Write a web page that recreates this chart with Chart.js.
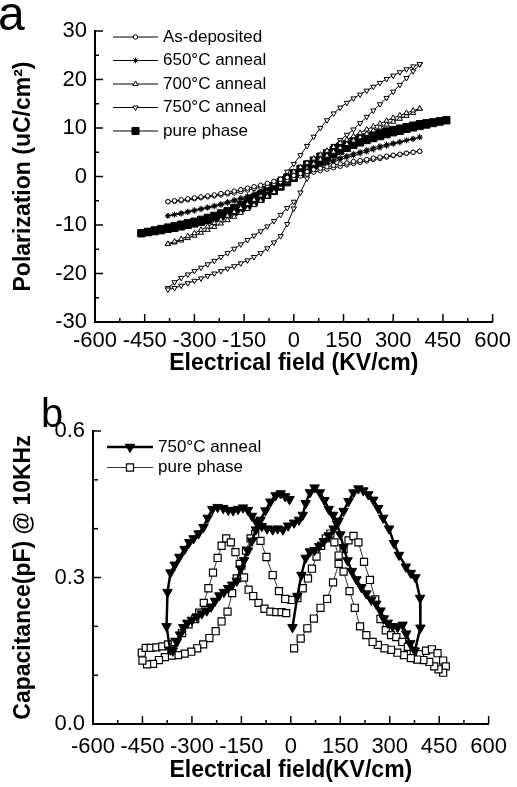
<!DOCTYPE html>
<html>
<head>
<meta charset="utf-8">
<script src="https://cdn.jsdelivr.net/npm/chart.js"></script>
<style>
  html, body { margin: 0; padding: 0; background: #fff; }
  canvas { display: block; }
</style>
</head>
<body>
<canvas id="chart-pe" width="517" height="390"></canvas>
<canvas id="chart-cv" width="517" height="397"></canvas>
<script>
/*
  ==================================================
  ============ DATOS (a) LAZOS P-E ================
  ==================================================
*/

// campo aplicado, pasos de 20 kV/cm
const fieldA = [-380, -360, -340, -320, -300, -280, -260, -240, -220, -200, -180, -160, -140, -120, -100, -80, -60, -40, -20, 0,
  20, 40, 60, 80, 100, 120, 140, 160, 180, 200, 220, 240, 260, 280, 300, 320, 340, 360, 380];

const asDepUpper = [-5.2, -5.0, -4.8, -4.6, -4.4, -4.2, -4.0, -3.8, -3.5, -3.3, -3.0, -2.7, -2.4, -2.1, -1.8, -1.4, -1.0, -0.6, -0.2, 0.2,
  0.6, 1.0, 1.4, 1.7, 2.0, 2.3, 2.6, 2.8, 3.1, 3.3, 3.5, 3.8, 4.0, 4.2, 4.4, 4.6, 4.8, 5.0, 5.2];
const asDepLower = [-5.2, -5.1, -5.0, -4.8, -4.6, -4.4, -4.2, -4.0, -3.8, -3.6, -3.4, -3.1, -2.8, -2.5, -2.2, -1.9, -1.5, -1.1, -0.7, -0.3,
  0.1, 0.5, 0.9, 1.2, 1.5, 1.8, 2.1, 2.4, 2.7, 2.9, 3.2, 3.5, 3.7, 4.0, 4.3, 4.5, 4.8, 5.0, 5.2];

const p650Upper = [-8.1, -7.8, -7.5, -7.2, -6.9, -6.6, -6.3, -6.0, -5.6, -5.2, -4.8, -4.4, -4.0, -3.5, -3.0, -2.4, -1.8, -1.2, -0.6, 0.1,
  0.7, 1.3, 1.9, 2.4, 2.9, 3.4, 3.9, 4.3, 4.7, 5.1, 5.5, 5.9, 6.3, 6.6, 6.9, 7.2, 7.5, 7.8, 8.1];
const p650Lower = [-8.1, -7.9, -7.7, -7.4, -7.1, -6.8, -6.5, -6.2, -5.9, -5.5, -5.1, -4.7, -4.3, -3.8, -3.3, -2.8, -2.2, -1.6, -1.0, -0.3,
  0.3, 0.9, 1.5, 2.0, 2.5, 3.0, 3.5, 3.9, 4.3, 4.7, 5.1, 5.5, 5.9, 6.3, 6.7, 7.0, 7.4, 7.7, 8.1];

const p700Upper = [-13.9, -13.4, -12.9, -12.3, -11.7, -11.0, -10.3, -9.6, -8.9, -8.1, -7.3, -6.5, -5.7, -4.8, -3.9, -3.0, -2.0, -1.0, 0.0, 1.0,
  1.9, 2.8, 3.7, 4.5, 5.3, 6.1, 6.9, 7.6, 8.3, 9.0, 9.7, 10.3, 10.9, 11.5, 12.1, 12.6, 13.1, 13.6, 14.0];
const p700Lower = [-13.9, -13.6, -13.2, -12.7, -12.2, -11.6, -11.0, -10.4, -9.7, -9.0, -8.3, -7.5, -6.7, -5.9, -5.0, -4.1, -3.2, -2.2, -1.2, -0.2,
  0.8, 1.7, 2.6, 3.5, 4.3, 5.1, 5.9, 6.7, 7.4, 8.1, 8.8, 9.5, 10.1, 10.7, 11.3, 11.9, 12.5, 13.1, 14.0];

// 750 C: rama inicial (0 -> -E), rama de subida (-E -> +E), rama de bajada (+E -> 0)
const field750P = [0, -20, -40, -60, -80, -100, -120, -140, -160, -180, -200, -220, -240, -260, -280, -300, -320, -340, -360, -380];
const p750P = [-5.2, -6.5, -7.9, -9.2, -10.3, -11.3, -12.2, -13.1, -14.0, -14.9, -15.8, -16.6, -17.4, -18.1, -18.8, -19.5, -20.2, -20.9, -21.8, -23.0];
const p750Q = [-23.3, -23.0, -22.5, -22.0, -21.5, -21.0, -20.5, -20.0, -19.5, -19.0, -18.5, -17.9, -17.3, -16.6, -15.8, -14.8, -13.6, -12.3, -9.8, -6.6,
  -3.3, -0.4, 1.8, 3.5, 5.0, 6.3, 7.5, 8.6, 9.7, 11.0, 12.3, 13.6, 14.9, 16.2, 17.5, 18.9, 20.3, 21.7, 23.1];
const field750R = [380, 360, 340, 320, 300, 280, 260, 240, 220, 200, 180, 160, 140, 120, 100, 80, 60, 40, 20, 0, -20, -40];
const p750R = [23.2, 22.7, 22.1, 21.5, 20.8, 20.1, 19.3, 18.5, 17.7, 16.9, 16.1, 15.2, 14.2, 13.0, 11.6, 10.0, 8.2, 6.3, 4.4, 2.6, 1.0, -0.4];

// fase pura, hasta 460 kV/cm
const fieldPure = [-460, -440, -420, -400, -380, -360, -340, -320, -300, -280, -260, -240, -220, -200, -180, -160, -140, -120, -100, -80,
  -60, -40, -20, 0, 20, 40, 60, 80, 100, 120, 140, 160, 180, 200, 220, 240, 260, 280, 300, 320, 340, 360, 380, 400, 420, 440, 460];
const pureUpper = [-11.7, -11.4, -11.1, -10.8, -10.5, -10.2, -9.9, -9.6, -9.3, -8.9, -8.5, -8.1, -7.6, -7.1, -6.5, -5.9, -5.2, -4.5, -3.7, -2.9,
  -2.0, -1.1, -0.2, 0.7, 1.6, 2.5, 3.3, 4.1, 4.8, 5.5, 6.1, 6.7, 7.2, 7.7, 8.1, 8.5, 8.9, 9.3, 9.6, 9.9, 10.2, 10.5, 10.8, 11.0, 11.2, 11.4, 11.6];
const pureLower = [-11.7, -11.5, -11.3, -11.1, -10.8, -10.6, -10.3, -10.0, -9.7, -9.4, -9.0, -8.6, -8.2, -7.7, -7.2, -6.6, -6.0, -5.3, -4.6, -3.8,
  -3.0, -2.1, -1.2, -0.3, 0.6, 1.5, 2.3, 3.1, 3.9, 4.6, 5.3, 5.9, 6.5, 7.0, 7.5, 7.9, 8.3, 8.7, 9.1, 9.4, 9.8, 10.1, 10.4, 10.7, 11.0, 11.3, 11.6];

/*
  ==================================================
  ============ DATOS (b) CURVAS C-V ===============
  ==================================================
*/

const capField750 = [5, 20, 32, 45, 58, 72, 86, 100, 115, 130, 145, 160, 175, 190, 205, 220, 235, 250, 265, 280, 298, 313, 328, 349, 364, 378, 392, 393, 376,
  362, 350, 339, 324, 309, 294, 282, 272, 259, 244, 229, 214, 199, 185, 172, 160, 150, 140, 128, 115, 102, 88, 72, 58, 45, 36, 25, 10, -8, -24,
  -40, -55, -72, -88, -104, -118, -130, -145, -160, -175, -190, -205, -222, -238, -252, -265, -280, -295, -308, -322, -338, -352, -365, -374, -377, -366,
  -358, -346, -336, -326, -314, -300, -285, -270, -255, -242, -230, -217, -203, -190, -178, -164, -152, -142, -130, -118, -106, -92, -77, -62, -46, -31, -17, -4];
const cap750 = [0.198, 0.262, 0.305, 0.340, 0.353, 0.356, 0.364, 0.374, 0.386, 0.400, 0.416, 0.436, 0.456, 0.474, 0.482, 0.478, 0.470, 0.459, 0.442, 0.422, 0.400, 0.370, 0.346, 0.322, 0.309, 0.300, 0.258, 0.197, 0.150,
  0.165, 0.185, 0.203, 0.198, 0.200, 0.207, 0.216, 0.232, 0.246, 0.254, 0.267, 0.280, 0.296, 0.313, 0.335, 0.362, 0.388, 0.410, 0.428, 0.440, 0.458, 0.474, 0.484, 0.474, 0.452, 0.428, 0.418, 0.412, 0.406, 0.398,
  0.400, 0.398, 0.400, 0.405, 0.413, 0.426, 0.438, 0.443, 0.440, 0.437, 0.438, 0.442, 0.444, 0.440, 0.422, 0.403, 0.390, 0.380, 0.372, 0.358, 0.342, 0.326, 0.310, 0.270, 0.200, 0.152,
  0.150, 0.168, 0.183, 0.198, 0.207, 0.213, 0.220, 0.226, 0.232, 0.240, 0.252, 0.263, 0.270, 0.278, 0.285, 0.293, 0.318, 0.335, 0.355, 0.375, 0.398, 0.418, 0.437, 0.455, 0.468, 0.472, 0.466, 0.460];

const capFieldPure = [10, 30, 50, 70, 90, 110, 128, 145, 160, 175, 190, 205, 222, 240, 256, 272, 288, 304, 320, 338, 355, 373, 392, 410, 428, 445, 462, 470,
  462, 448, 435, 420, 402, 383, 364, 343, 323, 304, 284, 264, 248, 229, 210, 194, 178, 160, 145, 132, 120, 106, 92, 78, 64, 52, 36, 20, 2, -17,
  -36, -55, -74, -92, -108, -122, -136, -150, -164, -178, -192, -210, -228, -247, -266, -284, -302, -322, -342, -362, -382, -400, -418, -436, -450, -452,
  -440, -425, -408, -390, -372, -352, -330, -310, -290, -278, -264, -250, -236, -222, -210, -196, -182, -168, -155, -142, -128, -114, -98, -80, -62, -44, -28, -14];
const capPure = [0.155, 0.175, 0.196, 0.216, 0.238, 0.256, 0.290, 0.328, 0.358, 0.376, 0.385, 0.372, 0.332, 0.295, 0.255, 0.215, 0.192, 0.182, 0.178, 0.168, 0.158, 0.149, 0.143, 0.150, 0.153, 0.145, 0.130, 0.118,
  0.105, 0.112, 0.118, 0.127, 0.131, 0.132, 0.135, 0.141, 0.146, 0.152, 0.155, 0.162, 0.168, 0.182, 0.200, 0.238, 0.272, 0.312, 0.345, 0.372, 0.390, 0.380, 0.365, 0.343, 0.318, 0.298, 0.278, 0.258, 0.254, 0.256,
  0.272, 0.305, 0.342, 0.375, 0.389, 0.380, 0.355, 0.325, 0.298, 0.268, 0.230, 0.210, 0.190, 0.176, 0.163, 0.155, 0.148, 0.144, 0.141, 0.140, 0.137, 0.131, 0.123, 0.122, 0.130, 0.146,
  0.156, 0.156, 0.157, 0.159, 0.163, 0.168, 0.186, 0.204, 0.215, 0.228, 0.248, 0.278, 0.310, 0.340, 0.365, 0.380, 0.372, 0.352, 0.328, 0.300, 0.275, 0.262, 0.248, 0.236, 0.230, 0.229, 0.229, 0.227];

/*
  ==================================================
  ================== AYUDANTES =====================
  ==================================================
*/

const FONT = "'Liberation Sans', Arial, sans-serif";

// une x e y en puntos {x, y}
const pts = (xs, ys) => xs.map((x, i) => ({ x, y: ys[i] }));
const rev = arr => arr.slice().reverse();

// lazo cerrado: sube por la rama inferior, baja por la superior
const loop = (xs, lower, upper) => [...pts(xs, lower), ...pts(rev(xs), rev(upper))];

// marcas de escala hacia dentro
const innerTicks = {
  id: 'innerTicks',
  afterDraw(chart, args, opts) {
    const { ctx, chartArea: area, scales } = chart;
    ctx.save();
    ctx.strokeStyle = '#000';
    ctx.lineWidth = 1.5;
    const seg = (x1, y1, x2, y2) => { ctx.beginPath(); ctx.moveTo(x1, y1); ctx.lineTo(x2, y2); ctx.stroke(); };

    let xt = scales.x.ticks;
    xt.forEach((t, i) => {
      let px = scales.x.getPixelForValue(t.value);
      seg(px, area.bottom, px, area.bottom - 8);
      if (i < xt.length - 1) {
        let pm = scales.x.getPixelForValue((t.value + xt[i + 1].value) / 2);
        seg(pm, area.bottom, pm, area.bottom - 4);
      }
    });

    let yt = scales.y.ticks;
    yt.forEach((t, i) => {
      let py = scales.y.getPixelForValue(t.value);
      seg(area.left, py, area.left + (t.label === '' ? 5 : 8), py);
      if (opts.yMinor && i < yt.length - 1) {
        let pm = scales.y.getPixelForValue((t.value + yt[i + 1].value) / 2);
        seg(area.left, pm, area.left + 4, pm);
      }
    });
    ctx.restore();
  }
};

// leyenda con linea + simbolo
const lineLegend = {
  id: 'lineLegend',
  afterDraw(chart, args, opts) {
    const { ctx } = chart;
    ctx.save();
    chart.data.datasets.forEach((ds, i) => {
      let yy = opts.y + i * opts.gap;
      ctx.strokeStyle = ds.borderColor;
      ctx.lineWidth = ds.borderWidth;
      ctx.beginPath();
      ctx.moveTo(opts.x, yy);
      ctx.lineTo(opts.x + opts.len, yy);
      ctx.stroke();

      ctx.fillStyle = ds.pointBackgroundColor;
      ctx.strokeStyle = ds.pointBorderColor;
      ctx.lineWidth = ds.pointBorderWidth;
      Chart.helpers.drawPoint(ctx, {
        pointStyle: ds.pointStyle,
        radius: ds.pointRadius,
        rotation: ds.pointRotation || 0,
        borderWidth: ds.pointBorderWidth
      }, opts.x + opts.len / 2, yy);

      ctx.fillStyle = '#000';
      ctx.font = opts.font;
      ctx.textBaseline = 'middle';
      ctx.textAlign = 'left';
      ctx.fillText(ds.label, opts.x + opts.len + 5, yy);
    });
    ctx.restore();
  }
};

// letra del panel
const panelLetter = {
  id: 'panelLetter',
  afterDraw(chart, args, opts) {
    const { ctx } = chart;
    ctx.save();
    ctx.fillStyle = '#000';
    ctx.font = opts.font;
    ctx.textBaseline = 'alphabetic';
    ctx.fillText(opts.text, opts.x, opts.y);
    ctx.restore();
  }
};

const tickFont = { family: FONT, size: 22 };
const titleFont = { family: FONT, size: 23, weight: 'bold' };
const axisBorder = { display: true, color: '#000', width: 2 };

/*
  ==================================================
  ================ GRAFICO (a) P-E =================
  ==================================================
*/

let canvasPE = document.getElementById('chart-pe').getContext('2d');

let peChart = new Chart(canvasPE, {
  type: 'line',
  data: {
    datasets: [{
      label: 'As-deposited',
      data: loop(fieldA, asDepLower, asDepUpper),
      borderColor: '#000', borderWidth: 1,
      pointStyle: 'circle', pointRadius: 2.2,
      pointBackgroundColor: '#fff', pointBorderColor: '#000', pointBorderWidth: 1
    }, {
      label: '650°C anneal',
      data: loop(fieldA, p650Lower, p650Upper),
      borderColor: '#000', borderWidth: 1,
      pointStyle: 'star', pointRadius: 2.8,
      pointBackgroundColor: '#fff', pointBorderColor: '#000', pointBorderWidth: 1
    }, {
      label: '700°C anneal',
      data: loop(fieldA, p700Lower, p700Upper),
      borderColor: '#000', borderWidth: 1,
      pointStyle: 'triangle', pointRadius: 3,
      pointBackgroundColor: '#fff', pointBorderColor: '#000', pointBorderWidth: 1
    }, {
      label: '750°C anneal',
      data: [...pts(field750P, p750P), ...pts(fieldA, p750Q), ...pts(field750R, p750R)],
      borderColor: '#000', borderWidth: 1,
      pointStyle: 'triangle', pointRotation: 180, pointRadius: 3,
      pointBackgroundColor: '#fff', pointBorderColor: '#000', pointBorderWidth: 1
    }, {
      label: 'pure phase',
      data: loop(fieldPure, pureLower, pureUpper),
      borderColor: '#000', borderWidth: 1,
      pointStyle: 'rect', pointRadius: 5,
      pointBackgroundColor: '#000', pointBorderColor: '#000', pointBorderWidth: 1
    }]
  },
  options: {
    responsive: false,
    animation: false,
    devicePixelRatio: 1,
    layout: { padding: { left: 0, right: 20, top: 31, bottom: 0 } },
    elements: { line: { tension: 0 } },
    scales: {
      x: {
        type: 'linear', min: -600, max: 600,
        afterFit: s => { s.height = 68; },
        ticks: { stepSize: 150, autoSkip: false, maxRotation: 0, padding: 6, color: '#000', font: tickFont },
        grid: { display: false, drawTicks: false },
        border: axisBorder,
        title: { display: true, text: 'Electrical field (KV/cm)', color: '#000', font: titleFont, padding: { top: 0, bottom: 13 } }
      },
      y: {
        type: 'linear', min: -30, max: 30,
        afterFit: s => { s.width = 95; },
        ticks: { stepSize: 10, padding: 8, color: '#000', font: tickFont },
        grid: { display: false, drawTicks: false },
        border: axisBorder,
        title: { display: true, text: 'Polarization (uC/cm²)', color: '#000', font: titleFont, padding: { top: 10, bottom: 0 } }
      }
    },
    plugins: {
      legend: { display: false },
      tooltip: { enabled: false },
      innerTicks: { yMinor: true },
      lineLegend: { x: 113, y: 37, gap: 23.5, len: 45, font: "17px " + FONT },
      panelLetter: { text: 'a', x: -2, y: 30, font: "48px " + FONT }
    }
  },
  plugins: [innerTicks, lineLegend, panelLetter]
});

/*
  ==================================================
  ================ GRAFICO (b) C-V =================
  ==================================================
*/

let canvasCV = document.getElementById('chart-cv').getContext('2d');

let cvChart = new Chart(canvasCV, {
  type: 'line',
  data: {
    datasets: [{
      label: '750°C anneal',
      data: pts(capField750, cap750),
      borderColor: '#000', borderWidth: 2.5,
      pointStyle: 'triangle', pointRotation: 180, pointRadius: 5.5,
      pointBackgroundColor: '#000', pointBorderColor: '#000', pointBorderWidth: 1
    }, {
      label: 'pure phase',
      data: pts(capFieldPure, capPure),
      borderColor: '#333', borderWidth: 1,
      pointStyle: 'rect', pointRadius: 5,
      pointBackgroundColor: '#fff', pointBorderColor: '#000', pointBorderWidth: 1.2
    }]
  },
  options: {
    responsive: false,
    animation: false,
    devicePixelRatio: 1,
    layout: { padding: { left: 0, right: 19, top: 41, bottom: 0 } },
    elements: { line: { tension: 0 } },
    scales: {
      x: {
        type: 'linear', min: -600, max: 600,
        afterFit: s => { s.height = 63; },
        ticks: { stepSize: 150, autoSkip: false, maxRotation: 0, padding: 10, color: '#000', font: tickFont },
        grid: { display: false, drawTicks: false },
        border: axisBorder,
        title: { display: true, text: 'Electrical field(KV/cm)', color: '#000', font: titleFont, padding: { top: 0, bottom: 3 } }
      },
      y: {
        type: 'linear', min: 0, max: 0.6,
        afterFit: s => { s.width = 93; },
        ticks: {
          stepSize: 0.1, padding: 8, color: '#000', font: tickFont,
          callback: (v, i) => (i % 3 === 0 ? v.toFixed(1) : '')
        },
        grid: { display: false, drawTicks: false },
        border: axisBorder,
        title: { display: true, text: 'Capacitance(pF) @ 10KHz', color: '#000', font: titleFont, padding: { top: 10, bottom: 0 } }
      }
    },
    plugins: {
      legend: { display: false },
      tooltip: { enabled: false },
      innerTicks: { yMinor: false },
      lineLegend: { x: 107, y: 57, gap: 20.5, len: 46, font: "17px " + FONT },
      panelLetter: { text: 'b', x: 41, y: 37, font: "40px " + FONT }
    }
  },
  plugins: [innerTicks, lineLegend, panelLetter]
});
</script>
</body>
</html>
